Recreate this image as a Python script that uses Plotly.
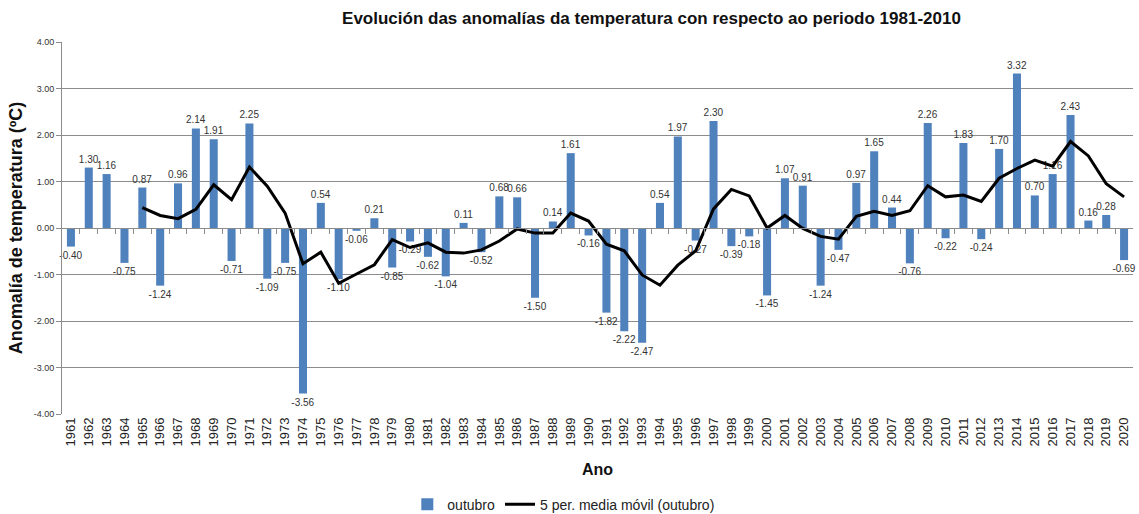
import plotly.graph_objects as go

years = list(range(1961, 2021))
anomalias = [-0.40, 1.30, 1.16, -0.75, 0.87, -1.24, 0.96, 2.14, 1.91, -0.71,
             2.25, -1.09, -0.75, -3.56, 0.54, -1.10, -0.06, 0.21, -0.85, -0.29,
             -0.62, -1.04, 0.11, -0.52, 0.68, 0.66, -1.50, 0.14, 1.61, -0.16,
             -1.82, -2.22, -2.47, 0.54, 1.97, -0.27, 2.30, -0.39, -0.18, -1.45,
             1.07, 0.91, -1.24, -0.47, 0.97, 1.65, 0.44, -0.76, 2.26, -0.22,
             1.83, -0.24, 1.70, 3.32, 0.70, 1.16, 2.43, 0.16, 0.28, -0.69]
ma_years = list(range(1965, 2021))
media_movil = [0.44, 0.27, 0.20, 0.40, 0.93, 0.61, 1.31, 0.90, 0.32, -0.77,
               -0.52, -1.19, -0.99, -0.79, -0.25, -0.42, -0.32, -0.52, -0.54, -0.47,
               -0.28, -0.02, -0.11, -0.11, 0.32, 0.15, -0.35, -0.49, -1.01, -1.23,
               -0.80, -0.49, 0.41, 0.83, 0.69, 0.00, 0.27, -0.01, -0.18, -0.24,
               0.25, 0.36, 0.27, 0.37, 0.91, 0.67, 0.71, 0.57, 1.07, 1.28,
               1.46, 1.33, 1.86, 1.55, 0.95, 0.67]
y_ticks = [-4, -3, -2, -1, 0, 1, 2, 3, 4]

FONT = "Liberation Sans, Arial, sans-serif"
GRID = "#8c8c8c"

fig = go.Figure()
fig.add_trace(go.Bar(
    x=years, y=anomalias, name="outubro",
    marker=dict(color="#4F81BD", line=dict(width=0)),
    width=0.45,
    text=[f"{v:.2f}" for v in anomalias], textposition="outside",
    textfont=dict(size=10, color="#333333", family=FONT),
    constraintext="none", cliponaxis=False,
))
fig.add_trace(go.Scatter(
    x=ma_years, y=media_movil, name="5 per. media móvil (outubro)",
    mode="lines", line=dict(color="black", width=3),
    xaxis="x2",
))

fig.update_layout(
    width=1139, height=514,
    margin=dict(l=62, r=6, t=42, b=100, autoexpand=False),
    paper_bgcolor="white", plot_bgcolor="white",
    font=dict(family=FONT, color="#222222"),
    title=dict(text="<b>Evolución das anomalías da temperatura con respecto ao periodo 1981-2010</b>",
               x=0.572, xanchor="center", xref="container", y=0.965, yanchor="middle",
               font=dict(size=17, color="#111111", family=FONT)),
    xaxis=dict(
        range=[1960.5, 2020.5], tickmode="array", tickvals=years,
        ticktext=[str(y) for y in years], tickangle=-90,
        tickfont=dict(size=13, color="#222222"),
        showgrid=False, zeroline=False, showline=False, ticks="",
        automargin=False,
        title=dict(text="<b>Ano</b>", font=dict(size=16, color="#111111"), standoff=18),
    ),
    xaxis2=dict(
        range=[1960.5, 2020.5], overlaying="x", anchor="free", position=0.5,
        side="bottom", tickmode="array", tickvals=[y + 0.5 for y in years[:-1]],
        showticklabels=False, ticks="outside", ticklen=5, tickcolor=GRID,
        showline=True, linecolor=GRID, linewidth=1, showgrid=False, zeroline=False,
    ),
    yaxis=dict(
        range=[-4, 4], tickmode="array", tickvals=y_ticks,
        ticktext=[f"{v:.2f}" for v in y_ticks],
        tickfont=dict(size=9, color="#333333"),
        showgrid=True, gridcolor=GRID, gridwidth=1,
        zeroline=False, showline=True, linecolor=GRID, ticks="outside",
        ticklen=5, tickcolor=GRID, automargin=False,
        title=dict(text="<b>Anomalía de temperatura (ºC)</b>",
                   font=dict(size=18, color="#111111"), standoff=6),
    ),
    legend=dict(orientation="h", x=0.495, xanchor="center", xref="container",
                y=0.018, yanchor="middle", yref="container",
                font=dict(size=14, color="#222222"), traceorder="normal"),
    showlegend=True,
)

fig.write_html("out.html", config={"displayModeBar": False},
               post_script="document.body.style.margin='0';")
